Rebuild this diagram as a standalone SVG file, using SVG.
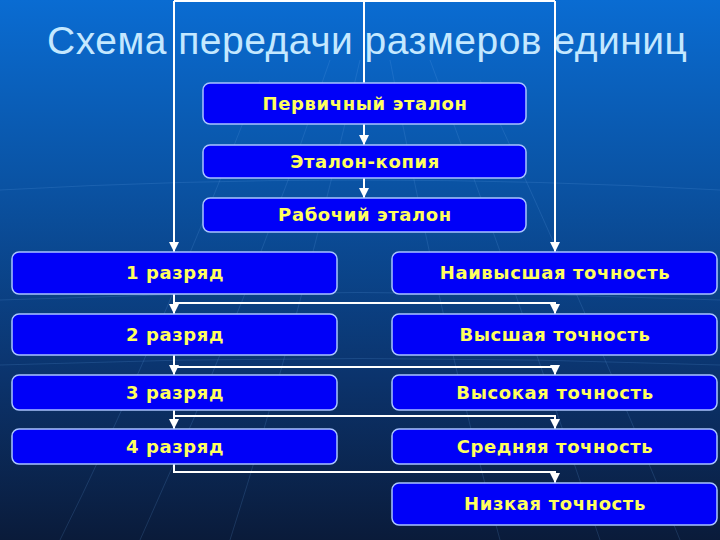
<svg xmlns="http://www.w3.org/2000/svg" width="720" height="540" viewBox="0 0 720 540">
  <defs>
    <linearGradient id="bg" x1="0" y1="0" x2="0" y2="1">
      <stop offset="0" stop-color="#0a6cd2"/>
      <stop offset="0.35" stop-color="#0a52a2"/>
      <stop offset="0.7" stop-color="#0b336c"/>
      <stop offset="1" stop-color="#0a1b3a"/>
    </linearGradient>
    <marker id="arr" viewBox="0 0 10 10" refX="10" refY="5" markerWidth="11" markerHeight="10" markerUnits="userSpaceOnUse" orient="auto">
      <path d="M0,0 L10,5 L0,10 z" fill="#ffffff"/>
    </marker>
    <style>
      .box { fill: #0000f8; stroke: #a9c4ff; stroke-width: 1.5; }
      .lbl { font-family: "DejaVu Sans", Verdana, sans-serif; font-weight: bold; font-size: 18px; letter-spacing: 0.6px; fill: #ffff5e; text-anchor: middle; }
      .ttl { font-family: "Liberation Sans", Arial, sans-serif; font-size: 39px; letter-spacing: 0.5px; fill: #c4e8ff; }
      .con { fill: none; stroke: #ffffff; stroke-width: 2; }
      .grid { fill: none; stroke: #6aa6e8; stroke-width: 1; opacity: 0.18; }
    </style>
  </defs>
  <rect x="0" y="0" width="720" height="540" fill="url(#bg)"/>
  <g id="background-grid">
    <path class="grid" d="M0,190 Q360,170 720,190"/>
    <path class="grid" d="M0,300 Q360,285 720,300"/>
    <path class="grid" d="M0,365 Q360,352 720,365"/>
    <path class="grid" d="M140,540 Q250,300 330,60"/>
    <path class="grid" d="M230,540 Q300,320 360,60"/>
    <path class="grid" d="M500,540 Q440,320 390,60"/>
    <path class="grid" d="M600,540 Q520,300 430,60"/>
    <path class="grid" d="M60,540 Q150,360 260,80"/>
    <path class="grid" d="M680,540 Q600,340 480,80"/>
  </g>
  <text class="ttl" x="47" y="54">Схема передачи размеров единиц</text>
  <g id="connectors">
    <path class="con" d="M364,1 V83"/>
    <path class="con" d="M174,1 H555"/>
    <path class="con" d="M174,1 V252" marker-end="url(#arr)"/>
    <path class="con" d="M555,1 V252" marker-end="url(#arr)"/>
    <path class="con" d="M364,124 V145" marker-end="url(#arr)"/>
    <path class="con" d="M364,178 V198" marker-end="url(#arr)"/>
    <path class="con" d="M174,294 V314" marker-end="url(#arr)"/>
    <path class="con" d="M174,303 H555 V314" marker-end="url(#arr)"/>
    <path class="con" d="M174,355 V375" marker-end="url(#arr)"/>
    <path class="con" d="M174,367 H555 V375" marker-end="url(#arr)"/>
    <path class="con" d="M174,410 V429" marker-end="url(#arr)"/>
    <path class="con" d="M174,416 H555 V429" marker-end="url(#arr)"/>
    <path class="con" d="M174,464 V472 H555 V483" marker-end="url(#arr)"/>
  </g>
  <g id="pervichny">
    <rect class="box" x="203" y="83" width="323" height="41" rx="7"/>
    <text class="lbl" x="365" y="110">Первичный эталон</text>
  </g>
  <g id="kopiya">
    <rect class="box" x="203" y="145" width="323" height="33" rx="7"/>
    <text class="lbl" x="365" y="168">Эталон-копия</text>
  </g>
  <g id="rabochy">
    <rect class="box" x="203" y="198" width="323" height="34" rx="7"/>
    <text class="lbl" x="365" y="221">Рабочий эталон</text>
  </g>
  <g id="razryad1">
    <rect class="box" x="12" y="252" width="325" height="42" rx="7"/>
    <text class="lbl" x="175" y="279">1 разряд</text>
  </g>
  <g id="razryad2">
    <rect class="box" x="12" y="314" width="325" height="41" rx="7"/>
    <text class="lbl" x="175" y="341">2 разряд</text>
  </g>
  <g id="razryad3">
    <rect class="box" x="12" y="375" width="325" height="35" rx="7"/>
    <text class="lbl" x="175" y="399">3 разряд</text>
  </g>
  <g id="razryad4">
    <rect class="box" x="12" y="429" width="325" height="35" rx="7"/>
    <text class="lbl" x="175" y="453">4 разряд</text>
  </g>
  <g id="naivysshaya">
    <rect class="box" x="392" y="252" width="325" height="42" rx="7"/>
    <text class="lbl" x="555" y="279">Наивысшая точность</text>
  </g>
  <g id="vysshaya">
    <rect class="box" x="392" y="314" width="325" height="41" rx="7"/>
    <text class="lbl" x="555" y="341">Высшая точность</text>
  </g>
  <g id="vysokaya">
    <rect class="box" x="392" y="375" width="325" height="35" rx="7"/>
    <text class="lbl" x="555" y="399">Высокая точность</text>
  </g>
  <g id="srednyaya">
    <rect class="box" x="392" y="429" width="325" height="35" rx="7"/>
    <text class="lbl" x="555" y="453">Средняя точность</text>
  </g>
  <g id="nizkaya">
    <rect class="box" x="392" y="483" width="325" height="42" rx="7"/>
    <text class="lbl" x="555" y="510">Низкая точность</text>
  </g>
</svg>
